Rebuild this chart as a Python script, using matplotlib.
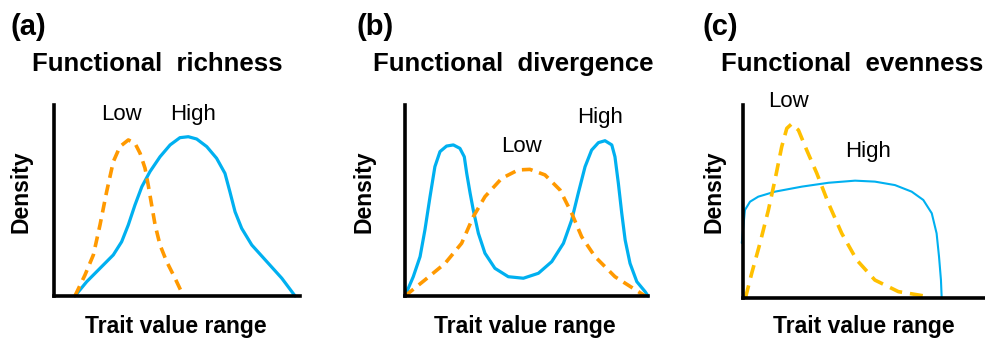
import matplotlib
matplotlib.use("Agg")
import matplotlib.pyplot as plt

plt.rcParams['font.family'] = ['Liberation Sans', 'DejaVu Sans']

# (a) functional richness - trait position (0-100) and density (0-100)
rich_high_x = [8.5, 13.3, 18.7, 24.1, 27.5, 30.2, 32.9, 35.7, 39.0, 43.1, 47.2,
               51.2, 54.6, 58.0, 62.1, 66.1, 69.5, 71.5, 73.6, 76.3, 80.4, 86.5,
               92.6, 98.0]
rich_high_y = [0.0, 7.5, 14.5, 21.5, 28.4, 37.2, 47.6, 57.2, 65.1, 72.9, 79.1,
               82.9, 83.4, 82.2, 78.2, 72.1, 64.2, 54.6, 44.1, 35.4, 26.7, 18.0,
               9.3, 0.0]
rich_low_x = [8.5, 12.6, 16.0, 18.7, 21.4, 24.1, 26.8, 30.2, 32.9, 35.0, 37.0,
              38.3, 39.7, 41.1, 43.1, 45.8, 49.2, 52.6]
rich_low_y = [0.0, 11.0, 21.5, 37.2, 54.6, 70.3, 78.2, 81.7, 80.0, 74.7, 66.9,
              58.1, 47.6, 37.2, 26.7, 18.0, 9.3, 0.0]

# (b) functional divergence
div_high_x = [0.0, 3.4, 6.2, 8.2, 10.3, 12.3, 14.4, 17.1, 19.9, 22.6, 24.4,
              25.4, 26.8, 28.1, 30.2, 32.9, 37.0, 42.5, 48.7, 54.9, 60.4, 65.2,
              68.6, 71.3, 74.1, 76.8, 79.6, 82.3, 85.1, 86.4, 87.8, 89.2, 90.6,
              92.6, 95.4, 98.8, 100.0]
div_high_y = [0.0, 10.1, 20.6, 34.6, 52.0, 67.7, 75.6, 78.5, 79.1, 77.3, 72.9,
              64.2, 53.8, 45.0, 32.8, 22.4, 14.5, 10.1, 9.3, 11.9, 18.0, 27.6,
              39.8, 53.8, 67.7, 76.4, 80.3, 81.3, 79.1, 72.9, 59.0, 43.3, 29.3,
              17.1, 7.5, 2.3, 0.0]
div_low_x = [0.0, 8.2, 16.5, 23.3, 28.1, 32.9, 39.8, 46.6, 51.4, 57.6, 63.8,
             68.6, 72.7, 78.2, 86.4, 96.0, 98.8]
div_low_y = [0.0, 8.4, 17.1, 27.6, 41.5, 52.0, 61.6, 66.0, 66.3, 63.4, 55.5,
             43.3, 31.0, 20.6, 10.1, 2.3, 0.0]

# (c) functional evenness
even_high_x = [-0.5, 0.8, 2.9, 6.3, 13.2, 24.3, 35.3, 46.3, 54.5, 62.8, 69.7,
               74.5, 78.0, 80.0, 81.0, 81.8, 82.1]
even_high_y = [28.5, 45.6, 49.9, 52.5, 55.1, 57.7, 59.7, 60.8, 60.3, 58.5, 55.1,
               50.8, 43.9, 33.5, 21.4, 9.3, 0.0]
even_low_x = [1.0, 3.6, 7.0, 10.5, 13.2, 16.0, 18.1, 20.1, 22.9, 26.3, 30.5,
              35.3, 40.8, 47.0, 54.5, 64.2, 76.6]
even_low_y = [0.0, 12.8, 28.3, 45.6, 61.1, 78.4, 87.9, 90.2, 87.0, 76.7, 64.6,
              49.1, 33.5, 19.7, 9.3, 3.3, 0.7]

BLUE = '#00b0f0'
ORANGE = '#ff9900'
YELLOW = '#ffc000'

W, H = 985, 340
fig = plt.figure(figsize=(W / 100, H / 100), dpi=100)


def px_axes(left, right, top, bottom):
    # axes rectangle from pixel edges of the reference
    return fig.add_axes([left / W, 1 - bottom / H, (right - left) / W, (bottom - top) / H])


def style(ax):
    for side in ('top', 'right'):
        ax.spines[side].set_visible(False)
    for side in ('left', 'bottom'):
        ax.spines[side].set_linewidth(2.6)
        ax.spines[side].set_color('black')
    ax.set_xticks([])
    ax.set_yticks([])
    ax.set_xlim(0, 100)
    ax.set_ylim(0, 100)
    ax.patch.set_alpha(0)


panels = [
    dict(ax=px_axes(54, 300, 105, 296), tag='(a)', tag_x=11, title='Functional  richness', title_x=157,
         high=(rich_high_x, rich_high_y), low=(rich_low_x, rich_low_y), blue_lw=2.3,
         low_color=ORANGE, dash=(3.0, 1.9), low_pos=(27.6, 92.1), high_pos=(56.5, 92.1),
         dens_x=21, trait_x=176),
    dict(ax=px_axes(405, 648, 105, 296), tag='(b)', tag_x=356, title='Functional  divergence', title_x=513,
         high=(div_high_x, div_high_y), low=(div_low_x, div_low_y), blue_lw=2.3,
         low_color=ORANGE, dash=(3.0, 1.9), low_pos=(48.1, 75.4), high_pos=(80.2, 90.6),
         dens_x=364, trait_x=525),
    dict(ax=px_axes(743, 985, 105, 298), tag='(c)', tag_x=702, title='Functional  evenness', title_x=852,
         high=(even_high_x, even_high_y), low=(even_low_x, even_low_y), blue_lw=1.5,
         low_color=YELLOW, dash=(3.6, 2.2), low_pos=(19.0, 99.0), high_pos=(51.7, 73.1),
         dens_x=714, trait_x=864),
]

for p in panels:
    ax = p['ax']
    style(ax)
    ax.plot(*p['high'], color=BLUE, lw=p['blue_lw'], clip_on=False,
            solid_capstyle='round', solid_joinstyle='round')
    ax.plot(*p['low'], color=p['low_color'], lw=2.6, linestyle=(0, p['dash']), clip_on=False)
    ax.text(*p['low_pos'], 'Low', fontsize=16, ha='center', va='baseline', clip_on=False)
    ax.text(*p['high_pos'], 'High', fontsize=16, ha='center', va='baseline', clip_on=False)

    fig.text(p['tag_x'] / W, 1 - 27 / H, p['tag'], fontsize=21, fontweight='bold',
             ha='left', va='center')
    fig.text(p['title_x'] / W, 1 - 71 / H, p['title'], fontsize=18.5, fontweight='bold',
             ha='center', va='baseline')
    fig.text(p['dens_x'] / W, 1 - 192 / H, 'Density', fontsize=16.5, fontweight='bold',
             rotation=90, ha='center', va='center')
    fig.text(p['trait_x'] / W, 1 - 333 / H, 'Trait value range', fontsize=16.5, fontweight='bold',
             ha='center', va='baseline')

fig.savefig('out.png', dpi=100)
